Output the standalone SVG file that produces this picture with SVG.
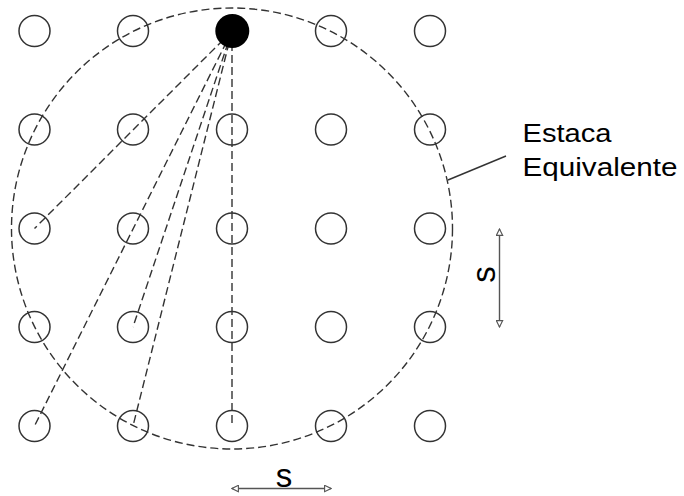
<svg xmlns="http://www.w3.org/2000/svg" width="684" height="496" viewBox="0 0 684 496">
<defs>
<style>
.pile{fill:#fff;stroke:#333;stroke-width:1.5}
.dash{fill:none;stroke:#333;stroke-width:1.4;stroke-dasharray:8 4}
.dim{stroke:#555;stroke-width:1.4;fill:none}
.lbl{font-family:"Liberation Sans",Arial,sans-serif;fill:#000}
</style>
<marker id="ah" viewBox="0 0 10 10" refX="9" refY="5" markerWidth="8" markerHeight="8" markerUnits="userSpaceOnUse" orient="auto-start-reverse">
<path d="M1,1 L9,5 L1,9 Z" fill="#fff" stroke="#555" stroke-width="1.4"/>
</marker>
</defs>
<rect width="684" height="496" fill="#fff"/>
<g id="piles">
<circle class="pile" cx="34.5" cy="31" r="15.5"/>
<circle class="pile" cx="133" cy="31" r="15.5"/>
<circle class="pile" cx="331" cy="31" r="15.5"/>
<circle class="pile" cx="430" cy="31" r="15.5"/>
<circle class="pile" cx="34.5" cy="129.5" r="15.5"/>
<circle class="pile" cx="133" cy="129.5" r="15.5"/>
<circle class="pile" cx="232" cy="129.5" r="15.5"/>
<circle class="pile" cx="331" cy="129.5" r="15.5"/>
<circle class="pile" cx="430" cy="129.5" r="15.5"/>
<circle class="pile" cx="34.5" cy="228.5" r="15.5"/>
<circle class="pile" cx="133" cy="228.5" r="15.5"/>
<circle class="pile" cx="232" cy="228.5" r="15.5"/>
<circle class="pile" cx="331" cy="228.5" r="15.5"/>
<circle class="pile" cx="430" cy="228.5" r="15.5"/>
<circle class="pile" cx="34.5" cy="327" r="15.5"/>
<circle class="pile" cx="133" cy="327" r="15.5"/>
<circle class="pile" cx="232" cy="327" r="15.5"/>
<circle class="pile" cx="331" cy="327" r="15.5"/>
<circle class="pile" cx="430" cy="327" r="15.5"/>
<circle class="pile" cx="34.5" cy="426" r="15.5"/>
<circle class="pile" cx="133" cy="426" r="15.5"/>
<circle class="pile" cx="232" cy="426" r="15.5"/>
<circle class="pile" cx="331" cy="426" r="15.5"/>
<circle class="pile" cx="430" cy="426" r="15.5"/>
</g>
<g id="connectors">
<circle id="equivalent-pile" class="dash" cx="232" cy="228.5" r="220.5"/>
<line class="dash" x1="232" y1="31" x2="34.5" y2="228.5"/>
<line class="dash" x1="232" y1="31" x2="34.5" y2="426"/>
<line class="dash" x1="232" y1="31" x2="133" y2="327"/>
<line class="dash" x1="232" y1="31" x2="133" y2="426"/>
<line class="dash" x1="232" y1="31" x2="232" y2="426"/>
<line x1="448" y1="180" x2="506" y2="156" stroke="#333" stroke-width="1.4"/>
<line class="dim" x1="499.5" y1="229" x2="499.5" y2="327" marker-start="url(#ah)" marker-end="url(#ah)"/>
<line class="dim" x1="232" y1="488.5" x2="331" y2="488.5" marker-start="url(#ah)" marker-end="url(#ah)"/>
</g>
<g id="selected-pile">
<circle cx="232.3" cy="31" r="17" fill="#000"/>
</g>
<g id="label-equivalente">
<text class="lbl" x="522.5" y="141.5" font-size="26.5" textLength="89" lengthAdjust="spacingAndGlyphs">Estaca</text>
<text class="lbl" x="522.5" y="176" font-size="26.5" textLength="155" lengthAdjust="spacingAndGlyphs">Equivalente</text>
</g>
<g id="label-s">
<text class="lbl" x="284" y="486.5" font-size="33" text-anchor="middle">s</text>
<text class="lbl" font-size="33" text-anchor="middle" transform="translate(494.5,274.5) rotate(-90)">s</text>
</g>
</svg>
